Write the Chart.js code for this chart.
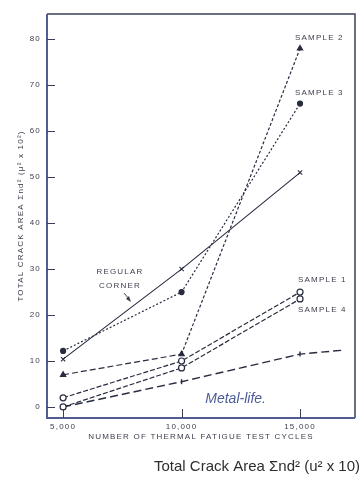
<!DOCTYPE html>
<html>
<head>
<meta charset="utf-8">
<title>Total Crack Area</title>
<script src="https://cdn.jsdelivr.net/npm/chart.js"></script>
<style>
    body {
        margin: 0;
        background: #ffffff;
    }
    #wrap {
        position: relative;
        width: 362px;
        height: 485px;
    }
</style>
</head>
<body>
<div id="wrap"><canvas id="crackChart" width="362" height="485"></canvas></div>
<script>
// values
const cycles = [5000, 10000, 15000];
const xTicks = [5000, 10000, 15000];
const yTicks = [0, 10, 20, 30, 40, 50, 60, 70, 80];

const sample1 = [2, 10, 25];
const sample2 = [7, 11.5, 78];
const sample3 = [12.2, 25, 66];
const sample4 = [0, 8.5, 23.5];
const regularCorner = [10.4, 30, 51];
const baseCycles = [5000, 10000, 15000, 16900];
const baseline = [0, 5.5, 11.5, 12.4];

const ink = '#282c40';
const textCol = '#3c3e4c';
const axisCol = '#4f5d92';
const fam = '"Liberation Sans", Arial, sans-serif';

function pts(xs, ys) {
    return xs.map((x, i) => ({ x: x, y: ys[i] }));
}

// frame, inward ticks and annotations
const annotate = {
    id: 'annotate',
    beforeDraw(chart) {
        chart.ctx.letterSpacing = '1.2px';
    },
    afterDraw(chart) {
        const ctx = chart.ctx;
        const a = chart.chartArea;
        const x = chart.scales.x;
        const y = chart.scales.y;
        ctx.save();

        // box
        ctx.strokeStyle = '#3a3f58';
        ctx.lineWidth = 1.5;
        ctx.beginPath();
        ctx.moveTo(a.left, a.top);
        ctx.lineTo(a.right, a.top);
        ctx.lineTo(a.right, a.bottom);
        ctx.stroke();
        ctx.strokeStyle = axisCol;
        ctx.lineWidth = 2;
        ctx.beginPath();
        ctx.moveTo(a.left, a.top);
        ctx.lineTo(a.left, a.bottom);
        ctx.lineTo(a.right, a.bottom);
        ctx.stroke();

        // ticks pointing into the plot
        ctx.strokeStyle = '#3a3f58';
        ctx.lineWidth = 1;
        yTicks.forEach(v => {
            const py = Math.round(y.getPixelForValue(v)) + 0.5;
            ctx.beginPath();
            ctx.moveTo(a.left, py);
            ctx.lineTo(a.left + 8, py);
            ctx.stroke();
        });
        xTicks.forEach(v => {
            const px = Math.round(x.getPixelForValue(v)) + 0.5;
            ctx.beginPath();
            ctx.moveTo(px, a.bottom);
            ctx.lineTo(px, a.bottom - 9);
            ctx.stroke();
        });

        // series labels
        ctx.fillStyle = textCol;
        ctx.font = '8px ' + fam;
        ctx.textBaseline = 'middle';
        ctx.textAlign = 'left';
        const last = cycles.length - 1;
        const px = x.getPixelForValue(cycles[last]);
        ctx.fillText('SAMPLE 2', px - 5, y.getPixelForValue(sample2[last]) - 11);
        ctx.fillText('SAMPLE 3', px - 5, y.getPixelForValue(sample3[last]) - 11);
        ctx.fillText('SAMPLE 1', px - 2, y.getPixelForValue(sample1[last]) - 12);
        ctx.fillText('SAMPLE 4', px - 2, y.getPixelForValue(sample4[last]) + 11);

        ctx.textAlign = 'center';
        const rx = x.getPixelForValue(7400);
        const ry = y.getPixelForValue(regularCorner[1]);
        ctx.fillText('REGULAR', rx, ry + 3);
        ctx.fillText('CORNER', rx, ry + 17);
        ctx.beginPath();
        ctx.moveTo(rx + 4, ry + 24);
        ctx.lineTo(rx + 10, ry + 31);
        ctx.stroke();
        ctx.beginPath();
        ctx.moveTo(rx + 11, ry + 33);
        ctx.lineTo(rx + 6, ry + 30);
        ctx.lineTo(rx + 9, ry + 27);
        ctx.closePath();
        ctx.fill();

        // logo
        ctx.letterSpacing = '0px';
        ctx.fillStyle = '#4d5c98';
        ctx.font = 'italic 14px ' + fam;
        ctx.textAlign = 'left';
        ctx.fillText('Metal-life.', x.getPixelForValue(11000), a.bottom - 19);

        // caption
        ctx.fillStyle = '#2e2e2e';
        ctx.font = '15px ' + fam;
        ctx.textAlign = 'right';
        ctx.fillText('Total Crack Area \u03A3nd\u00B2 (u\u00B2 x 10)', 360, 467);
        ctx.restore();
    }
};

const ctx = document.getElementById('crackChart').getContext('2d');
new Chart(ctx, {
    type: 'line',
    data: {
        datasets: [
            {
                label: 'Sample 2',
                data: pts(cycles, sample2),
                borderColor: ink,
                backgroundColor: ink,
                borderWidth: 1.2,
                pointStyle: 'triangle',
                pointRadius: 3,
                segment: {
                    borderDash: c => c.p0DataIndex === 0 ? [6, 3] : [3, 2]
                }
            },
            {
                label: 'Sample 3',
                data: pts(cycles, sample3),
                borderColor: ink,
                backgroundColor: ink,
                borderWidth: 1.2,
                borderDash: [2, 2],
                pointStyle: 'circle',
                pointRadius: 2.5
            },
            {
                label: 'Regular corner',
                data: pts(cycles, regularCorner),
                borderColor: ink,
                backgroundColor: ink,
                borderWidth: 1.1,
                pointStyle: 'crossRot',
                pointRadius: 3
            },
            {
                label: 'Sample 1',
                data: pts(cycles, sample1),
                borderColor: ink,
                backgroundColor: '#ffffff',
                borderWidth: 1.2,
                borderDash: [5, 2],
                pointStyle: 'circle',
                pointRadius: 3
            },
            {
                label: 'Sample 4',
                data: pts(cycles, sample4),
                borderColor: ink,
                backgroundColor: '#ffffff',
                borderWidth: 1.2,
                borderDash: [5, 2],
                pointStyle: 'circle',
                pointRadius: 3
            },
            {
                label: 'Base',
                data: pts(baseCycles, baseline),
                borderColor: ink,
                backgroundColor: ink,
                borderWidth: 1.4,
                borderDash: [8, 4],
                pointStyle: 'line',
                pointRotation: 90,
                pointRadius: [0, 2.5, 2.5, 0]
            }
        ]
    },
    options: {
        responsive: false,
        animation: false,
        events: [],
        layout: {
            padding: { top: 14, right: 7, left: 0, bottom: 37 }
        },
        plugins: {
            legend: { display: false },
            tooltip: { enabled: false }
        },
        scales: {
            x: {
                type: 'linear',
                min: 4320,
                max: 17320,
                afterBuildTicks: s => { s.ticks = xTicks.map(v => ({ value: v })); },
                afterFit: s => { s.height = 30; },
                grid: { display: false, drawTicks: false },
                border: { display: false },
                ticks: {
                    autoSkip: false,
                    maxRotation: 0,
                    padding: 4,
                    color: textCol,
                    font: { size: 8, family: fam },
                    callback: v => v.toLocaleString('en-US')
                },
                title: {
                    display: true,
                    text: 'NUMBER OF THERMAL FATIGUE TEST CYCLES',
                    color: textCol,
                    padding: { top: 0, bottom: 6 },
                    font: { size: 8, family: fam }
                }
            },
            y: {
                min: -2.4,
                max: 85.5,
                afterBuildTicks: s => { s.ticks = yTicks.map(v => ({ value: v })); },
                afterFit: s => { s.width = 47; },
                grid: { display: false, drawTicks: false },
                border: { display: false },
                ticks: {
                    padding: 6,
                    color: textCol,
                    font: { size: 8, family: fam }
                },
                title: {
                    display: true,
                    text: 'TOTAL CRACK AREA \u03A3nd\u00B2 (\u03BC\u00B2 x 10\u00B2)',
                    color: textCol,
                    padding: { top: 16, bottom: 0 },
                    font: { size: 8, family: fam }
                }
            }
        }
    },
    plugins: [annotate]
});
</script>
</body>
</html>
